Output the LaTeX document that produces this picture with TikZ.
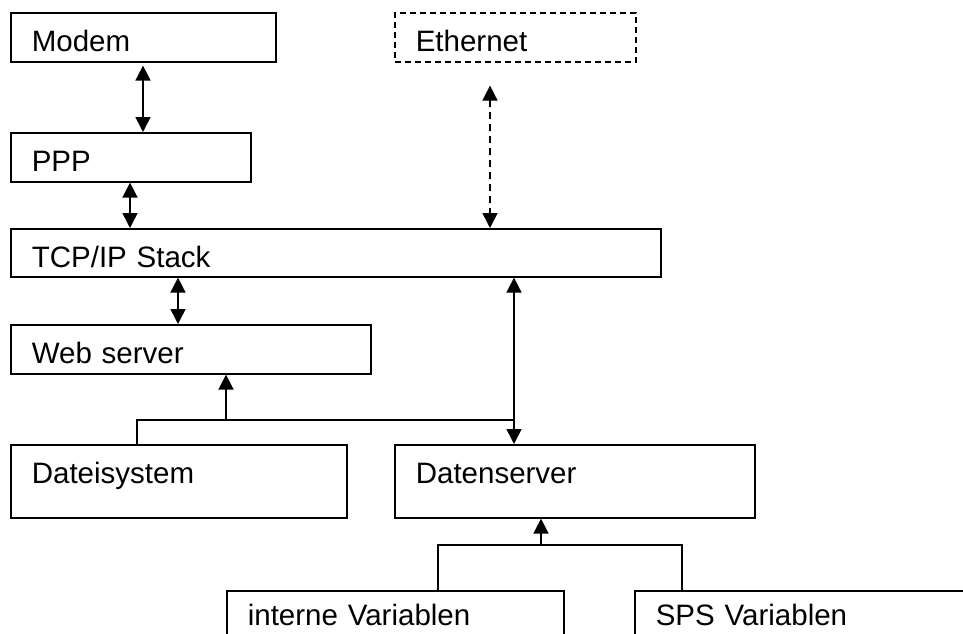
\documentclass[tikz,border=0pt]{standalone}
\usepackage{fontspec}
\setmainfont{Liberation Sans}
\usetikzlibrary{arrows.meta}
\tikzset{
  box/.style={draw, line width=1.6pt, anchor=north west, inner xsep=21pt, inner ysep=0pt,
    align=left, text height=39pt, font=\fontsize{29.5}{34}\selectfont},
  conn/.style={line width=1.6pt},
  arr/.style={conn, -{Triangle[length=15pt,width=15pt]}},
  dbl/.style={conn, {Triangle[length=15pt,width=15pt]}-{Triangle[length=15pt,width=15pt]}},
}
\begin{document}
\begin{tikzpicture}[x=1pt,y=-1pt]
\useasboundingbox (0,0) rectangle (963,633);
\clip (0,0) rectangle (963,633);
\fill[white] (0,0) rectangle (963,633);
% boxes
\node[box, text width=223pt, text depth=10pt] (modem) at (10,12) {Modem};
\node[box, dashed, dash pattern=on 6pt off 4pt, text width=199pt, text depth=10pt] (eth) at (394,12) {Ethernet};
\node[box, text width=198pt, text depth=10pt] (ppp) at (10,132) {PPP};
\node[box, text width=608pt, text depth=9pt] (tcp) at (10,228) {TCP/IP Stack};
\node[box, text width=318pt, text depth=10pt] (web) at (10,324) {Web server};
\node[box, text width=294pt, text depth=34pt] (datei) at (10,444) {Dateisystem};
\node[box, text width=318pt, text depth=34pt] (daten) at (394,444) {Datenserver};
\node[box, text width=295pt, text height=35pt, text depth=38pt] (intern) at (226,590) {interne Variablen};
\node[box, text width=358pt, text height=35pt, text depth=38pt] (sps) at (634,590) {SPS Variablen};
% column coordinates
\coordinate (c1) at (143,0);
\coordinate (c2) at (130,0);
\coordinate (c3) at (490,0);
\coordinate (c4) at (178,0);
\coordinate (c5) at (514,0);
\coordinate (jf) at (137,420);
\coordinate (jw) at (226,420);
\coordinate (jd) at (514,420);
\coordinate (ji) at (438,545);
\coordinate (js) at (682,545);
\coordinate (jv) at (541,545);
% connectors
\draw[dbl, shorten <=3pt] (modem.south -| c1) -- (ppp.north -| c1);
\draw[dbl] (ppp.south -| c2) -- (tcp.north -| c2);
\draw[dbl, dash pattern=on 7pt off 5pt, shorten <=23pt] (eth.south -| c3) -- (tcp.north -| c3);
\draw[dbl] (tcp.south -| c4) -- (web.north -| c4);
\draw[dbl] (tcp.south -| c5) -- (daten.north -| c5);
\draw[conn] (datei.north -| jf) -- (jf) -- (jd);
\draw[arr] (jw) -- (web.south -| jw);
\draw[conn] (intern.north -| ji) -- (ji) -- (jv);
\draw[conn] (sps.north -| js) -- (js) -- (jv);
\draw[arr] (jv) -- (daten.south -| jv);
\end{tikzpicture}
\end{document}
